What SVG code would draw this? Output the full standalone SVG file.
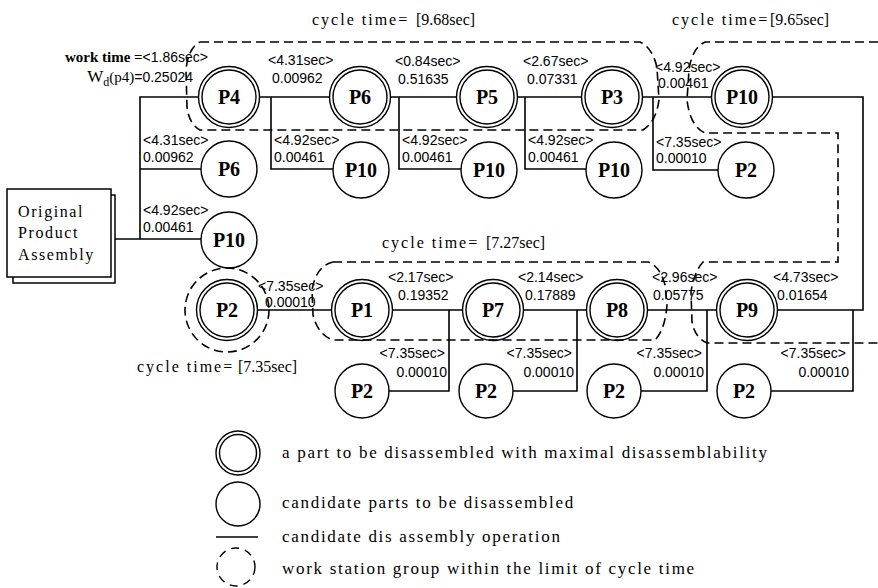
<svg xmlns="http://www.w3.org/2000/svg" width="878" height="588" viewBox="0 0 878 588">
<style>
.ln{stroke:#000;stroke-width:1.6;fill:none}
.ds{stroke:#000;stroke-width:1.6;fill:none;stroke-dasharray:9 5}
.c{fill:#fff;stroke:#000;stroke-width:1.4}
.ci{fill:none;stroke:#000;stroke-width:1.4}
.nt{font-family:"Liberation Serif",serif;font-size:20px;font-weight:bold;text-anchor:middle}
.lb{font-family:"Liberation Sans",Arial,sans-serif;font-size:14px}
.lbe{font-family:"Liberation Sans",Arial,sans-serif;font-size:14px;text-anchor:end}
.ct{font-family:"Liberation Serif",serif;font-size:16px}
.lg{font-family:"Liberation Serif",serif;font-size:17px;letter-spacing:1.7px}
.bx{font-family:"Liberation Serif",serif;font-size:16px;letter-spacing:1.6px}
</style>
<rect width="878" height="588" fill="#fff"/>
<g id="connectors">
<path class="ln" d="M140,239 V97 H863 V310 H258"/>
<path class="ln" d="M115,239 H201"/>
<path class="ln" d="M140,169 H201"/>
<path class="ln" d="M271,97 V169 H333"/>
<path class="ln" d="M399,97 V169 H461"/>
<path class="ln" d="M525,97 V169 H586"/>
<path class="ln" d="M653,97 V170 H718"/>
<path class="ln" d="M449,310 V391 H362"/>
<path class="ln" d="M577,310 V391 H486"/>
<path class="ln" d="M707,310 V391 H614"/>
<path class="ln" d="M853,310 V391 H744"/>
</g>
<g id="assembly">
<rect x="13" y="195" width="102" height="88" fill="#fff" stroke="#000" stroke-width="1.5"/>
<rect x="7" y="189" width="104" height="88" fill="#fff" stroke="#000" stroke-width="1.5"/>
<text class="bx" x="18" y="217">Original</text>
<text class="bx" x="18" y="238">Product</text>
<text class="bx" x="18" y="260">Assembly</text>
</g>
<g id="n-P4"><circle class="c" cx="229" cy="97" r="30.5"/><circle class="ci" cx="229" cy="97" r="27"/><text class="nt" x="229" y="104">P4</text></g>
<g id="n-P6"><circle class="c" cx="360" cy="97" r="30.5"/><circle class="ci" cx="360" cy="97" r="27"/><text class="nt" x="360" y="104">P6</text></g>
<g id="n-P5"><circle class="c" cx="487" cy="97" r="30.5"/><circle class="ci" cx="487" cy="97" r="27"/><text class="nt" x="487" y="104">P5</text></g>
<g id="n-P3"><circle class="c" cx="612" cy="97" r="30.5"/><circle class="ci" cx="612" cy="97" r="27"/><text class="nt" x="612" y="104">P3</text></g>
<g id="n-P10a"><circle class="c" cx="742" cy="97" r="30.5"/><circle class="ci" cx="742" cy="97" r="27"/><text class="nt" x="742" y="104">P10</text></g>
<g id="n-P6b"><circle class="c" cx="229" cy="169" r="28"/><text class="nt" x="229" y="176">P6</text></g>
<g id="n-P10b"><circle class="c" cx="229" cy="240" r="28"/><text class="nt" x="229" y="247">P10</text></g>
<g id="n-P10c"><circle class="c" cx="361" cy="170" r="28"/><text class="nt" x="361" y="177">P10</text></g>
<g id="n-P10d"><circle class="c" cx="489" cy="170" r="28"/><text class="nt" x="489" y="177">P10</text></g>
<g id="n-P10e"><circle class="c" cx="614" cy="170" r="28"/><text class="nt" x="614" y="177">P10</text></g>
<g id="n-P2a"><circle class="c" cx="746" cy="170" r="28"/><text class="nt" x="746" y="177">P2</text></g>
<g id="n-P2b"><circle class="c" cx="227" cy="310" r="30.5"/><circle class="ci" cx="227" cy="310" r="27"/><text class="nt" x="227" y="317">P2</text></g>
<g id="n-P1"><circle class="c" cx="362" cy="310" r="30.5"/><circle class="ci" cx="362" cy="310" r="27"/><text class="nt" x="362" y="317">P1</text></g>
<g id="n-P7"><circle class="c" cx="493" cy="310" r="30.5"/><circle class="ci" cx="493" cy="310" r="27"/><text class="nt" x="493" y="317">P7</text></g>
<g id="n-P8"><circle class="c" cx="617" cy="310" r="30.5"/><circle class="ci" cx="617" cy="310" r="27"/><text class="nt" x="617" y="317">P8</text></g>
<g id="n-P9"><circle class="c" cx="747" cy="310" r="30.5"/><circle class="ci" cx="747" cy="310" r="27"/><text class="nt" x="747" y="317">P9</text></g>
<g id="n-P2c"><circle class="c" cx="362" cy="391" r="27"/><text class="nt" x="362" y="398">P2</text></g>
<g id="n-P2d"><circle class="c" cx="486" cy="391" r="27"/><text class="nt" x="486" y="398">P2</text></g>
<g id="n-P2e"><circle class="c" cx="614" cy="391" r="27"/><text class="nt" x="614" y="398">P2</text></g>
<g id="n-P2f"><circle class="c" cx="744" cy="391" r="27"/><text class="nt" x="744" y="398">P2</text></g>
<g id="labels">
<text x="208" y="62" text-anchor="end" font-size="15"><tspan font-family="Liberation Serif,serif" font-weight="bold">work time =</tspan><tspan font-family="Liberation Sans,sans-serif" font-size="14">&lt;1.86sec&gt;</tspan></text>
<text x="193" y="82" text-anchor="end" font-size="15"><tspan font-family="Liberation Serif,serif" font-size="17">W</tspan><tspan font-family="Liberation Serif,serif" font-size="12" dy="4">d</tspan><tspan font-family="Liberation Serif,serif" dy="-4">(p4)</tspan><tspan font-family="Liberation Sans,sans-serif" font-size="14">=0.25024</tspan></text>
<text class="lb" x="268" y="65">&lt;4.31sec&gt;</text><text class="lb" x="272" y="83">0.00962</text>
<text class="lb" x="395" y="66">&lt;0.84sec&gt;</text><text class="lb" x="398" y="84">0.51635</text>
<text class="lb" x="523" y="66">&lt;2.67sec&gt;</text><text class="lb" x="527" y="84">0.07331</text>
<text class="lb" x="655" y="72">&lt;4.92sec&gt;</text><text class="lb" x="658" y="88">0.00461</text>
<text class="lb" x="143" y="145">&lt;4.31sec&gt;</text><text class="lb" x="143" y="162">0.00962</text>
<text class="lb" x="143" y="215">&lt;4.92sec&gt;</text><text class="lb" x="143" y="232">0.00461</text>
<text class="lb" x="274" y="145">&lt;4.92sec&gt;</text><text class="lb" x="274" y="162">0.00461</text>
<text class="lb" x="402" y="145">&lt;4.92sec&gt;</text><text class="lb" x="402" y="162">0.00461</text>
<text class="lb" x="528" y="145">&lt;4.92sec&gt;</text><text class="lb" x="528" y="162">0.00461</text>
<text class="lb" x="656" y="147">&lt;7.35sec&gt;</text><text class="lb" x="656" y="163">0.00010</text>
<text class="lb" x="258" y="291">&lt;7.35sec&gt;</text><text class="lb" x="265" y="307">0.00010</text>
<text class="lb" x="388" y="282">&lt;2.17sec&gt;</text><text class="lb" x="398" y="300">0.19352</text>
<text class="lb" x="518" y="282">&lt;2.14sec&gt;</text><text class="lb" x="525" y="300">0.17889</text>
<text class="lb" x="652" y="282">&lt;2.96sec&gt;</text><text class="lb" x="653" y="300">0.05775</text>
<text class="lb" x="773" y="282">&lt;4.73sec&gt;</text><text class="lb" x="777" y="300">0.01654</text>
<text class="lbe" x="445" y="358">&lt;7.35sec&gt;</text><text class="lbe" x="447" y="377">0.00010</text>
<text class="lbe" x="572" y="358">&lt;7.35sec&gt;</text><text class="lbe" x="574" y="377">0.00010</text>
<text class="lbe" x="702" y="358">&lt;7.35sec&gt;</text><text class="lbe" x="704" y="377">0.00010</text>
<text class="lbe" x="846" y="358">&lt;7.35sec&gt;</text><text class="lbe" x="849" y="377">0.00010</text>
<text class="ct" x="312" y="25"><tspan letter-spacing="2">cycle time=</tspan><tspan x="416">[9.68sec]</tspan></text>
<text class="ct" x="672" y="25"><tspan letter-spacing="2">cycle time=</tspan><tspan x="770">[9.65sec]</tspan></text>
<text class="ct" x="382" y="248"><tspan letter-spacing="2">cycle time=</tspan><tspan x="486">[7.27sec]</tspan></text>
<text class="ct" x="137" y="372"><tspan letter-spacing="2">cycle time=</tspan><tspan x="238">[7.35sec]</tspan></text>
</g>
<g id="groups">
<path class="ds" d="M200,42 H640 Q653,48 657,68 L659,100 Q656,122 643,130 H200 Q189,124 187,107 L186,70 Q188,48 200,42"/>
<path class="ds" d="M878,42 H705 Q692,48 689,70 L687,100 Q690,126 705,133 H838 V262 H703 Q694,272 691,292 L692,322 Q695,338 707,343 H878"/>
<path class="ds" d="M333,262 H648 Q660,266 665,285 L667,305 Q665,330 655,340 H333 Q318,335 313,315 L312,290 Q316,266 333,262"/>
<circle class="ds" cx="227" cy="310" r="42"/>
</g>
<g id="legend">
<circle cx="238" cy="453" r="22" fill="none" stroke="#000" stroke-width="1.4"/>
<circle cx="238" cy="453" r="18.5" fill="none" stroke="#000" stroke-width="1.4"/>
<circle cx="238" cy="504" r="22" fill="none" stroke="#000" stroke-width="1.4"/>
<line x1="216" y1="537" x2="258" y2="537" stroke="#000" stroke-width="1.6"/>
<circle cx="236" cy="567" r="19" fill="none" stroke="#000" stroke-width="1.4" stroke-dasharray="8 6"/>
<text class="lg" x="282" y="458">a part to be disassembled with maximal disassemblability</text>
<text class="lg" x="282" y="508">candidate parts to be disassembled</text>
<text class="lg" x="282" y="542">candidate dis assembly operation</text>
<text class="lg" x="282" y="574">work station group within the limit of cycle time</text>
</g>
</svg>
